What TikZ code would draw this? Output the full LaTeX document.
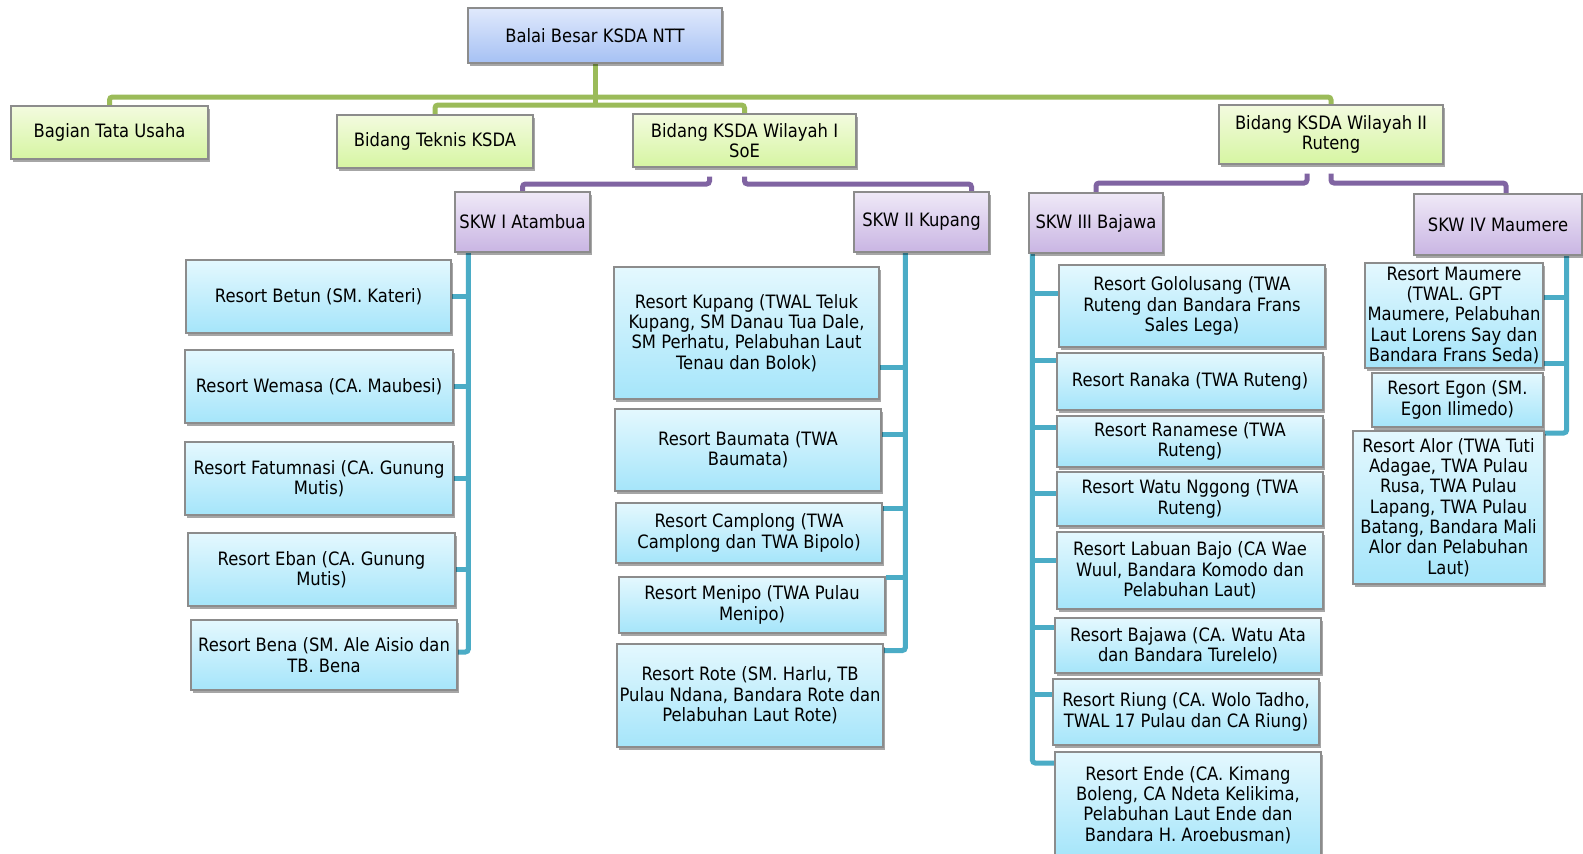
\documentclass[tikz,border=0pt]{standalone}
\usepackage{fontspec}
\setmainfont[FakeStretch=0.89]{DejaVu Sans}
\usetikzlibrary{shadows,backgrounds}
\definecolor{gline}{HTML}{9BBB59}
\definecolor{pline}{HTML}{8064A2}
\definecolor{bline}{HTML}{4BACC6}
\definecolor{boxgray}{HTML}{8C8C8C}
\definecolor{bluetop}{HTML}{E0E9FC}
\definecolor{bluebot}{HTML}{A6C1F4}
\definecolor{greentop}{HTML}{F3FBDF}
\definecolor{greenbot}{HTML}{D6F5A2}
\definecolor{purptop}{HTML}{EFE9F7}
\definecolor{purpbot}{HTML}{C9B5E3}
\definecolor{cyantop}{HTML}{E4F8FE}
\definecolor{cyanbot}{HTML}{A5E5FA}
\tikzset{
  basebox/.style={draw=boxgray, line width=1.3pt, inner sep=0pt, align=center, text=black,
    font=\fontsize{18.4pt}{20.3pt}\selectfont,
    drop shadow={shadow xshift=1.5pt, shadow yshift=-2.5pt, opacity=0.35, fill=black}},
  bluebox/.style={basebox, top color=bluetop, bottom color=bluebot},
  greenbox/.style={basebox, top color=greentop, bottom color=greenbot},
  purpbox/.style={basebox, top color=purptop, bottom color=purpbot},
  cyanbox/.style={basebox, top color=cyantop, bottom color=cyanbot},
  gconn/.style={draw=gline, line width=5pt, rounded corners=3pt},
  pconn/.style={draw=pline, line width=5pt, rounded corners=3pt},
  bconn/.style={draw=bline, line width=5pt, rounded corners=3pt},
}
\newcommand\obox[7]{\node[#1, minimum width={(#5-#3)*1pt}, minimum height={(#6-#4)*1pt}] (#2) at ({(#3+#5)/2},{(#4+#6)/2}) {#7};}
\newcommand\brE[3]{\coordinate (tt) at ([yshift=#2pt]#1.east); \draw[bconn] (tt) -- (tt -| #3);}
\newcommand\brW[3]{\coordinate (tt) at ([yshift=#2pt]#1.west); \draw[bconn] (tt) -- (tt -| #3);}
\begin{document}
\begin{tikzpicture}[x=1pt,y=-1pt]
\useasboundingbox (0,0) rectangle (1583,854);
% level 0/1
\obox{bluebox}{balai}{468}{8}{722}{63}{Balai Besar KSDA NTT}
\obox{greenbox}{bagian}{11}{106}{208}{159}{Bagian Tata Usaha}
\obox{greenbox}{teknis}{337}{115}{533}{168}{Bidang Teknis KSDA}
\obox{greenbox}{wil1}{633}{114}{856}{167}{Bidang KSDA Wilayah I\\SoE}
\obox{greenbox}{ruteng}{1219}{105}{1443}{164}{Bidang KSDA Wilayah II\\Ruteng}
% SKW
\obox{purpbox}{skw1}{455}{192}{590}{252}{SKW I Atambua}
\obox{purpbox}{skw2}{854}{192}{989}{252}{SKW II Kupang}
\obox{purpbox}{skw3}{1029}{193}{1163}{253}{SKW III Bajawa}
\obox{purpbox}{skw4}{1414}{194}{1582}{255}{SKW IV Maumere}
% SKW I resorts
\obox{cyanbox}{betun}{186}{260}{451}{333}{Resort Betun (SM. Kateri)}
\obox{cyanbox}{wemasa}{185}{350}{453}{423}{Resort Wemasa (CA. Maubesi)}
\obox{cyanbox}{fatum}{185}{442}{453}{515}{Resort Fatumnasi (CA. Gunung\\Mutis)}
\obox{cyanbox}{eban}{188}{533}{455}{606}{Resort Eban (CA. Gunung\\Mutis)}
\obox{cyanbox}{bena}{191}{620}{457}{690}{Resort Bena (SM. Ale Aisio dan\\TB. Bena}
% SKW II resorts
\obox{cyanbox}{kupang}{614}{267}{879}{399}{Resort Kupang (TWAL Teluk\\Kupang, SM Danau Tua Dale,\\SM Perhatu, Pelabuhan Laut\\Tenau dan Bolok)}
\obox{cyanbox}{baumata}{615}{409}{881}{491}{Resort Baumata (TWA\\Baumata)}
\obox{cyanbox}{camplong}{616}{503}{882}{563}{Resort Camplong (TWA\\Camplong dan TWA Bipolo)}
\obox{cyanbox}{menipo}{619}{577}{885}{633}{Resort Menipo (TWA Pulau\\Menipo)}
\obox{cyanbox}{rote}{617}{644}{883}{747}{Resort Rote (SM. Harlu, TB\\Pulau Ndana, Bandara Rote dan\\Pelabuhan Laut Rote)}
% SKW III resorts
\obox{cyanbox}{golo}{1059}{265}{1325}{347}{Resort Gololusang (TWA\\Ruteng dan Bandara Frans\\Sales Lega)}
\obox{cyanbox}{ranaka}{1057}{353}{1323}{410}{Resort Ranaka (TWA Ruteng)}
\obox{cyanbox}{ranamese}{1057}{416}{1323}{467}{Resort Ranamese (TWA\\Ruteng)}
\obox{cyanbox}{watu}{1057}{472}{1323}{526}{Resort Watu Nggong (TWA\\Ruteng)}
\obox{cyanbox}{labuan}{1057}{532}{1323}{609}{Resort Labuan Bajo (CA Wae\\Wuul, Bandara Komodo dan\\Pelabuhan Laut)}
\obox{cyanbox}{bajawa}{1055}{618}{1321}{673}{Resort Bajawa (CA. Watu Ata\\dan Bandara Turelelo)}
\obox{cyanbox}{riung}{1053}{679}{1319}{745}{Resort Riung (CA. Wolo Tadho,\\TWAL 17 Pulau dan CA Riung)}
\obox{cyanbox}{ende}{1055}{752}{1321}{858}{Resort Ende (CA. Kimang\\Boleng, CA Ndeta Kelikima,\\Pelabuhan Laut Ende dan\\Bandara H. Aroebusman)}
% SKW IV resorts
\obox{cyanbox}{maumere}{1365}{263}{1543}{368}{Resort Maumere\\(TWAL. GPT\\Maumere, Pelabuhan\\Laut Lorens Say dan\\Bandara Frans Seda)}
\obox{cyanbox}{egon}{1372}{373}{1543}{427}{Resort Egon (SM.\\Egon Ilimedo)}
\obox{cyanbox}{alor}{1353}{431}{1544}{584}{Resort Alor (TWA Tuti\\Adagae, TWA Pulau\\Rusa, TWA Pulau\\Lapang, TWA Pulau\\Batang, Bandara Mali\\Alor dan Pelabuhan\\Laut)}
\begin{pgfonlayer}{background}
\fill[white] (0,0) rectangle (1583,854);
% green
\coordinate (gy1) at (0,97);
\coordinate (gy2) at (0,105);
\draw[gconn] (bagian.north) -- (bagian.north |- gy1) -- (ruteng.north |- gy1) -- (ruteng.north);
\draw[gconn] (balai.south) -- (balai.south |- gy2);
\draw[gconn] (teknis.north) -- (teknis.north |- gy2) -- (wil1.north |- gy2) -- (wil1.north);
% purple
\coordinate (py1) at (0,184);
\coordinate (py2) at (0,183);
\coordinate (w1l) at ([xshift=-35pt,yshift=-9pt]wil1.south);
\coordinate (w1r) at ([yshift=-9pt]wil1.south);
\coordinate (s2t) at ([xshift=50pt]skw2.north);
\draw[pconn] (w1l) -- (w1l |- py1) -| (skw1.north);
\draw[pconn] (w1r) -- (w1r |- py1) -| (s2t);
\coordinate (w2l) at ([xshift=-24pt,yshift=-9pt]ruteng.south);
\coordinate (w2r) at ([yshift=-9pt]ruteng.south);
\coordinate (s4t) at ([xshift=8pt]skw4.north);
\draw[pconn] (w2l) -- (w2l |- py2) -| (skw3.north);
\draw[pconn] (w2r) -- (w2r |- py2) -| (s4t);
% blue SKW I
\coordinate (v1) at ([xshift=14pt]skw1.south west);
\coordinate (e1) at ([yshift=3pt]bena.east);
\draw[bconn] (v1) |- (e1);
\brE{betun}{0}{v1}
\brE{wemasa}{0}{v1}
\brE{fatum}{0}{v1}
\brE{eban}{0}{v1}
% blue SKW II
\coordinate (v2) at ([xshift=52pt]skw2.south west);
\coordinate (e2) at ([yshift=45pt]rote.east);
\draw[bconn] (v2) |- (e2);
\brE{kupang}{-34}{v2}
\brE{baumata}{16}{v2}
\brE{camplong}{25}{v2}
\brE{menipo}{28}{v2}
% blue SKW III
\coordinate (v3) at ([xshift=4pt]skw3.south west);
\coordinate (e3) at ([yshift=42pt]ende.west);
\draw[bconn] (v3) |- (e3);
\brW{golo}{13}{v3}
\brW{ranaka}{21.5}{v3}
\brW{ranamese}{14.5}{v3}
\brW{watu}{6}{v3}
\brW{labuan}{10.5}{v3}
\brW{bajawa}{18.5}{v3}
\brW{riung}{18}{v3}
% blue SKW IV
\coordinate (v4) at ([xshift=-16pt]skw4.south east);
\coordinate (e4) at ([yshift=74.5pt]alor.east);
\draw[bconn] (v4) |- (e4);
\brE{maumere}{18.5}{v4}
\brE{egon}{37}{v4}
\end{pgfonlayer}
\end{tikzpicture}
\end{document}
